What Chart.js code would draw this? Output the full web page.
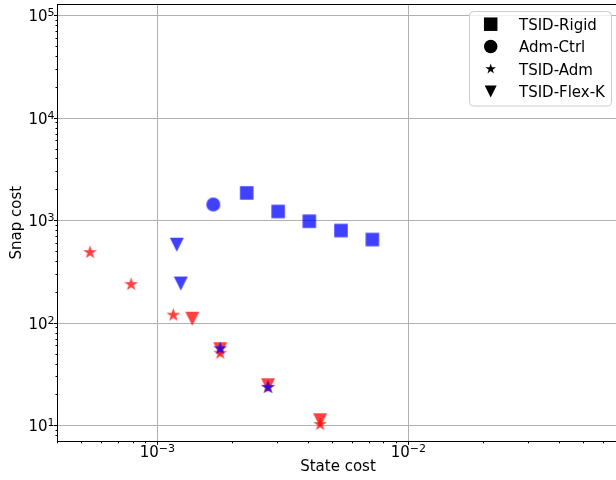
<!DOCTYPE html>
<html lang="en">

<head>
  <meta charset="UTF-8">
  <title>Snap cost vs state cost</title>
  <script src="https://cdn.jsdelivr.net/npm/chart.js"></script>
  <style>
    html, body { margin: 0; padding: 0; overflow: hidden; background: #fff; }
    canvas { display: block; }
  </style>
</head>

<body>
  <canvas id="myChart" width="620" height="480"></canvas>

  <script>
    // blue runs
    const rigidX = [2.27e-3, 3.03e-3, 4.03e-3, 5.39e-3, 7.19e-3];
    const rigidY = [1867, 1230, 989, 802, 655];
    const ctrlX = [1.67e-3];
    const ctrlY = [1440];
    const admBlueX = [1.78e-3, 2.76e-3];
    const admBlueY = [56.6, 23.7];
    const flexBlueX = [1.195e-3, 1.24e-3];
    const flexBlueY = [583, 244];

    // red runs
    const admRedX = [5.39e-4, 7.86e-4, 1.158e-3, 1.78e-3, 2.76e-3, 4.45e-3];
    const admRedY = [490, 239, 120, 51, 23.7, 10.3];
    const flexRedX = [1.378e-3, 1.78e-3, 2.76e-3, 4.45e-3];
    const flexRedY = [110.6, 55.8, 24.8, 11.3];

    const legendLabels = ['TSID-Rigid', 'Adm-Ctrl', 'TSID-Adm', 'TSID-Flex-K'];
    const legendShapes = ['square', 'circle', 'star', 'triangle'];
    const xTickValues = [1e-3, 1e-2];
    const yTickValues = [1e1, 1e2, 1e3, 1e4, 1e5];

    const BLUE = 'rgba(0, 0, 255, 0.75)';
    const RED = 'rgba(255, 0, 0, 0.75)';
    const FONT = '"DejaVu Sans", sans-serif';

    // matplotlib-like marker outlines, centred on (cx, cy)
    const markerPath = (ctx, shape, cx, cy, s) => {
      ctx.beginPath();
      if (shape === 'square') {
        ctx.rect(cx - s / 2, cy - s / 2, s, s);
      } else if (shape === 'circle') {
        ctx.arc(cx, cy, s / 2, 0, Math.PI * 2);
      } else if (shape === 'triangle') {
        ctx.moveTo(cx - s / 2, cy - s / 2);
        ctx.lineTo(cx + s / 2, cy - s / 2);
        ctx.lineTo(cx, cy + s / 2);
        ctx.closePath();
      } else if (shape === 'star') {
        const R = s / 2, r = R * 0.381966;
        for (let i = 0; i < 10; i++) {
          const a = -Math.PI / 2 + i * Math.PI / 5;
          const rad = i % 2 ? r : R;
          ctx.lineTo(cx + rad * Math.cos(a), cy + rad * Math.sin(a));
        }
        ctx.closePath();
      }
    };

    // small canvas used as a pointStyle image
    const makeMarker = (shape, size, color) => {
      const dim = Math.ceil(size) + 4;
      const cv = document.createElement('canvas');
      cv.width = dim;
      cv.height = dim;
      const c = cv.getContext('2d');
      c.fillStyle = color;
      markerPath(c, shape, dim / 2, dim / 2, size);
      c.fill();
      return cv;
    };

    const toPoints = (xs, ys) => xs.map((x, i) => ({ x, y: ys[i] }));

    const SIZES = { square: 13.5, circle: 14, star: 14.5, triangle: 14 };

    // first dataset ends up on top
    const datasets = [
      { label: 'TSID-Rigid', data: toPoints(rigidX, rigidY), shape: 'square', color: BLUE },
      { label: 'Adm-Ctrl', data: toPoints(ctrlX, ctrlY), shape: 'circle', color: BLUE },
      { label: 'TSID-Adm', data: toPoints(admBlueX, admBlueY), shape: 'star', color: BLUE },
      { label: 'TSID-Flex-K', data: toPoints(flexBlueX, flexBlueY), shape: 'triangle', color: BLUE },
      { label: 'TSID-Adm', data: toPoints(admRedX, admRedY), shape: 'star', color: RED },
      { label: 'TSID-Flex-K', data: toPoints(flexRedX, flexRedY), shape: 'triangle', color: RED },
    ].map(d => ({
      label: d.label,
      data: d.data,
      pointStyle: makeMarker(d.shape, SIZES[d.shape], d.color),
      pointRadius: 7,
      showLine: false,
    }));

    // "10" with a raised exponent
    const drawPow = (ctx, exp, x, baseline, align) => {
      const base = '10';
      const sup = (exp < 0 ? '\u2212' : '') + Math.abs(exp);
      ctx.font = '15px ' + FONT;
      const wb = ctx.measureText(base).width;
      ctx.font = '11px ' + FONT;
      const ws = ctx.measureText(sup).width;
      const total = wb + ws;
      const start = align === 'center' ? x - total / 2 : x - total;
      ctx.textAlign = 'left';
      ctx.textBaseline = 'alphabetic';
      ctx.font = '15px ' + FONT;
      ctx.fillText(base, start, baseline);
      ctx.font = '11px ' + FONT;
      ctx.fillText(sup, start + wb, baseline - 5);
    };

    const crisp = p => Math.round(p - 0.5) + 0.5;

    const axesDecor = {
      id: 'axesDecor',
      afterDraw(chart) {
        const { ctx, chartArea: a, scales: { x, y } } = chart;
        ctx.save();
        ctx.strokeStyle = '#000';
        ctx.fillStyle = '#000';
        ctx.lineWidth = 1;

        // top spine
        ctx.beginPath();
        ctx.moveTo(a.left, crisp(a.top));
        ctx.lineTo(a.right, crisp(a.top));
        ctx.stroke();

        // major and minor tick marks
        ctx.beginPath();
        for (let e = -4; e <= -1; e++) {
          for (let m = 1; m <= 9; m++) {
            const v = m * Math.pow(10, e);
            if (v < x.min || v > x.max) continue;
            const px = crisp(x.getPixelForValue(v));
            const len = m === 1 ? 3.5 : 2;
            ctx.moveTo(px, a.bottom);
            ctx.lineTo(px, a.bottom + len);
          }
        }
        for (let e = 0; e <= 5; e++) {
          for (let m = 1; m <= 9; m++) {
            const v = m * Math.pow(10, e);
            if (v < y.min || v > y.max) continue;
            const py = crisp(y.getPixelForValue(v));
            const len = m === 1 ? 3.5 : 2;
            ctx.moveTo(a.left, py);
            ctx.lineTo(a.left - len, py);
          }
        }
        ctx.stroke();

        // tick labels
        xTickValues.forEach(v => {
          drawPow(ctx, Math.round(Math.log10(v)), x.getPixelForValue(v), a.bottom + 15.2, 'center');
        });
        yTickValues.forEach(v => {
          drawPow(ctx, Math.round(Math.log10(v)), a.left - 3, y.getPixelForValue(v) + 5.5, 'right');
        });

        // legend box
        const bx = 469.5, by = 11.5, bw = 142, bh = 94.5, r = 4;
        ctx.beginPath();
        ctx.roundRect(bx, by, bw, bh, r);
        ctx.fillStyle = 'rgba(255, 255, 255, 0.8)';
        ctx.fill();
        ctx.strokeStyle = '#cccccc';
        ctx.stroke();

        const legendSizes = { square: 13.5, circle: 13.5, star: 11, triangle: 12 };
        ctx.font = '15px ' + FONT;
        ctx.textAlign = 'left';
        ctx.textBaseline = 'alphabetic';
        legendLabels.forEach((label, i) => {
          const rowY = 24.2 + i * 22.4;
          ctx.fillStyle = '#000';
          markerPath(ctx, legendShapes[i], 490.7, rowY, legendSizes[legendShapes[i]]);
          ctx.fill();
          ctx.fillText(label, 519, rowY + 5.5);
        });
        ctx.restore();
      }
    };

    const gridOpts = {
      color: '#b0b0b0',
      lineWidth: 1,
      drawTicks: false,
    };

    const ctx = document.getElementById('myChart').getContext('2d');

    const myChart = new Chart(ctx, {
      type: 'scatter',
      data: { datasets },
      options: {
        responsive: false,
        animation: false,
        events: [],
        layout: {
          autoPadding: false,
          padding: { top: 4, right: 1.5, left: 0, bottom: 0 },
        },
        scales: {
          x: {
            type: 'logarithmic',
            min: 4.0e-4,
            max: 0.0688,
            afterBuildTicks: scale => { scale.ticks = xTickValues.map(v => ({ value: v })); },
            afterFit: scale => { scale.height = 38.7; },
            ticks: { display: false },
            grid: gridOpts,
            border: { display: true, color: '#000', width: 1 },
            title: {
              display: true,
              text: 'State cost',
              color: '#000',
              font: { family: FONT, size: 15 },
              padding: { top: 0, bottom: 3.5 },
            },
          },
          y: {
            type: 'logarithmic',
            min: 7.05,
            max: 1.3e5,
            afterBuildTicks: scale => { scale.ticks = yTickValues.map(v => ({ value: v })); },
            afterFit: scale => { scale.width = 57.5; },
            ticks: { display: false },
            grid: gridOpts,
            border: { display: true, color: '#000', width: 1 },
            title: {
              display: true,
              text: 'Snap cost',
              color: '#000',
              font: { family: FONT, size: 15 },
              padding: { top: 8.5, bottom: 0 },
            },
          },
        },
        plugins: {
          legend: { display: false },
          tooltip: { enabled: false },
        },
      },
      plugins: [axesDecor],
    });
  </script>
</body>

</html>
